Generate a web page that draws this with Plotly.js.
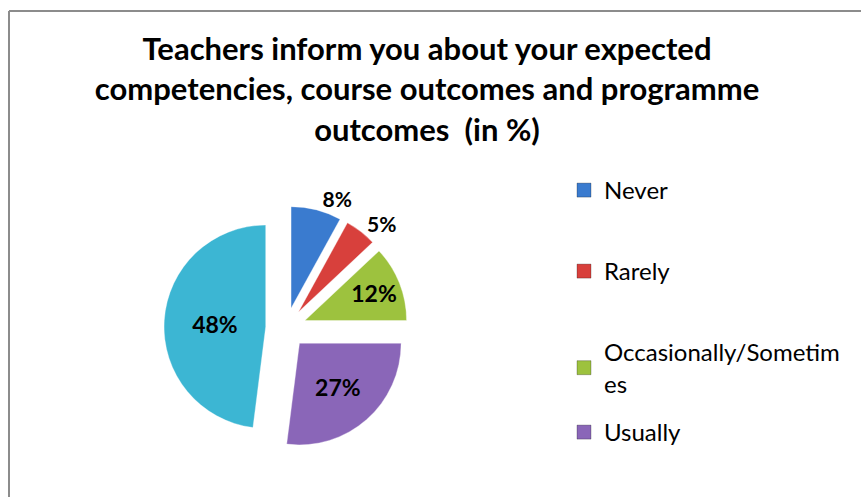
<!DOCTYPE html>
<html>
<head>
<meta charset="utf-8">
<script src="https://cdn.plot.ly/plotly-3.0.1.min.js"></script>
<style>
  html, body { margin: 0; padding: 0; background: #fff; }
  #chart { width: 861px; height: 497px; }
</style>
</head>
<body>
<div id="chart"></div>
<script>
const labels = ["Never", "Rarely", "Occasionally/Sometimes", "Usually", "Always"];
const values = [8, 5, 12, 27, 48];
const colors = ["#3a7bcf", "#d8403c", "#9dc23e", "#8a66b8", "#3cb6d3"];
// the legend in the original only shows the first four entries (the rest is cut off)
const legendNames = ["Never", "Rarely", "Occasionally/Sometim<br>es", "Usually"];
const legendTops = [168, 249, 330, 410];

const W = 861, H = 497;
const px = x => x / W;
const py = y => 1 - y / H;

const pie = {
  type: "pie",
  labels: labels,
  values: values,
  sort: false,
  direction: "clockwise",
  rotation: 0,
  pull: 0.2,
  showlegend: false,
  marker: {colors: colors, line: {color: "rgba(255,255,255,0.35)", width: 1}},
  texttemplate: "%{value}%",
  textposition: ["outside", "outside", "inside", "inside", "inside"],
  insidetextorientation: "horizontal",
  insidetextfont: {family: "Lato, sans-serif", size: 23, color: "#000", weight: "bold"},
  outsidetextfont: {family: "Lato, sans-serif", size: 21, color: "#000", weight: "bold"},
  hoverinfo: "label+value",
  domain: {x: [px(164), px(408)], y: [py(450), py(206)]}
};

const data = [pie];
const legends = {};
legendNames.forEach((name, i) => {
  const key = i === 0 ? "legend" : "legend" + (i + 1);
  data.push({
    type: "scatter",
    mode: "markers",
    x: [null], y: [null],
    name: name,
    legend: key === "legend" ? undefined : key,
    marker: {symbol: "square", size: 14, color: colors[i],
             line: {color: "rgba(0,0,0,0.25)", width: 1}},
    hoverinfo: "skip"
  });
  legends[key] = {
    x: px(564), xanchor: "left",
    y: py(legendTops[i]), yanchor: "top",
    font: {family: "Lato, sans-serif", size: 24, color: "#000"},
    bgcolor: "rgba(0,0,0,0)",
    itemclick: false, itemdoubleclick: false
  };
});

const layout = Object.assign({
  width: W,
  height: H,
  margin: {l: 0, r: 0, t: 0, b: 0},
  paper_bgcolor: "#fff",
  plot_bgcolor: "#fff",
  title: {
    text: "Teachers inform you about your expected<br>competencies, course outcomes and programme<br>outcomes  (in %)",
    font: {family: "Lato, sans-serif", size: 31, color: "#000", weight: "bold"},
    x: px(427), xanchor: "center",
    y: py(60), yanchor: "middle", yref: "container"
  },
  xaxis: {visible: false},
  yaxis: {visible: false},
  showlegend: true,
  shapes: [
    {type: "line", xref: "paper", yref: "paper", x0: px(9), x1: px(9), y0: py(11), y1: py(520),
     line: {color: "#8c8c8c", width: 2}},
    {type: "line", xref: "paper", yref: "paper", x0: px(9), x1: px(900), y0: py(11), y1: py(11),
     line: {color: "#8c8c8c", width: 2}}
  ]
}, legends);

Plotly.newPlot("chart", data, layout, {displayModeBar: false, staticPlot: true});
</script>
</body>
</html>
